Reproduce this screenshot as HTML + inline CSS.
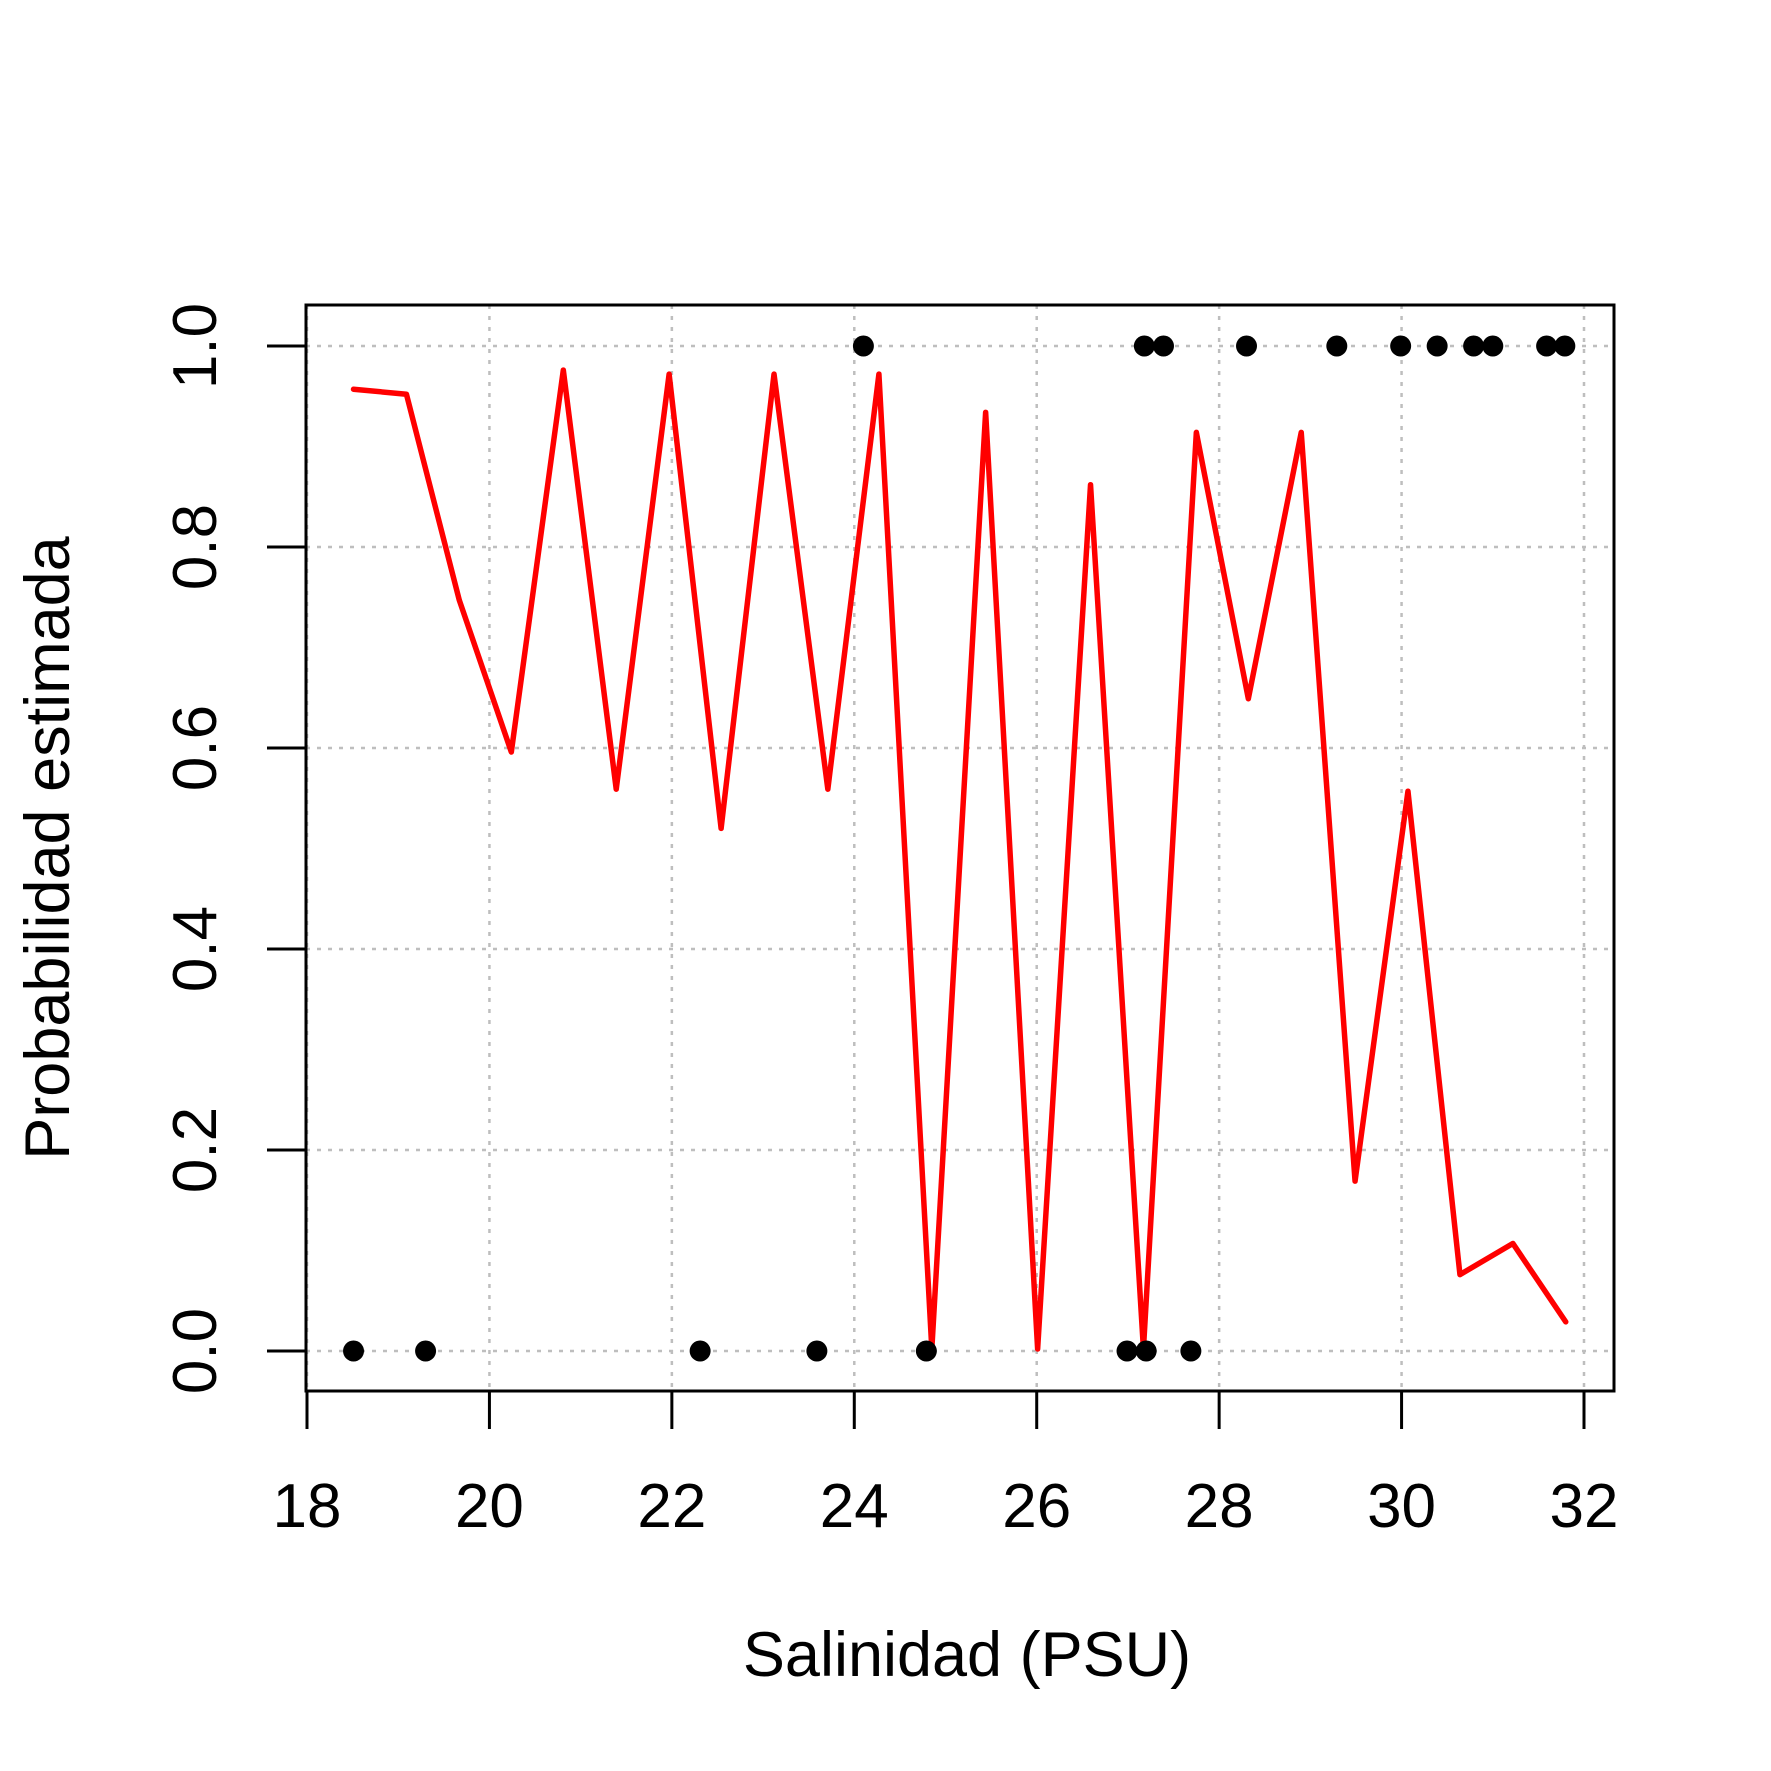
<!DOCTYPE html>
<html><head><meta charset="utf-8"><style>
html,body{margin:0;padding:0;background:#fff;}
svg{display:block;font-family:"Liberation Sans",Arial,sans-serif;}
</style></head><body>
<svg id="chart" width="1771" height="1771" viewBox="0 0 1771 1771">
<g id="grid"></g>
<g id="series"></g>
<rect x="306" y="305" width="1308" height="1086" fill="none" stroke="#000" stroke-width="3"/>
<g id="axes"></g>
<text x="967" y="1676" font-size="63" text-anchor="middle">Salinidad (PSU)</text>
<text transform="translate(69,848) rotate(-90)" font-size="63" text-anchor="middle">Probabilidad estimada</text>
</svg>
<script>
const lineX = [18.51,19.09,19.67,20.24,20.81,21.39,21.97,22.54,23.12,23.71,24.27,24.85,25.44,26.01,26.59,27.17,27.75,28.32,28.90,29.49,30.07,30.64,31.22,31.80];
const lineY = [0.957,0.952,0.747,0.596,0.976,0.559,0.972,0.520,0.972,0.559,0.972,0.002,0.934,0.002,0.862,0.002,0.914,0.649,0.914,0.169,0.557,0.076,0.107,0.029];
const onesX = [24.10,27.18,27.39,28.30,29.29,29.99,30.39,30.79,31.00,31.59,31.79];
const zerosX = [18.51,19.30,22.31,23.59,24.79,26.99,27.20,27.69];
const xTicks = [18,20,22,24,26,28,30,32];
const yTicks = [0,0.2,0.4,0.6,0.8,1.0];
const yTickLabels = ["0.0","0.2","0.4","0.6","0.8","1.0"];

const NS = "http://www.w3.org/2000/svg";
function sx(v){ return 307 + (v-18)*(1584-307)/14; }
function sy(v){ return 1351 - 1005*v; }
function mk(tag, attrs, parent){ const e=document.createElementNS(NS,tag); for(const k in attrs) e.setAttribute(k,attrs[k]); parent.appendChild(e); return e; }
const grid=document.getElementById('grid'), series=document.getElementById('series'), axes=document.getElementById('axes');

xTicks.forEach(t=>{
  const g=mk('line',{x1:sx(t),x2:sx(t),y1:305,y2:1391,stroke:'#bebebe','stroke-width':2.5,'stroke-dasharray':'4 7'},grid);
  
  
  const tk=mk('line',{x1:sx(t),x2:sx(t),y1:1391,y2:1429,stroke:'#000','stroke-width':3},axes);
  
  
  const lb=mk('text',{x:sx(t),y:1527,'font-size':62,'text-anchor':'middle'},axes);
  lb.textContent=t;
  
  
});
mk('line',{x1:sx(18),x2:sx(32),y1:1391,y2:1391,stroke:'#000','stroke-width':3},axes);
yTicks.forEach((t,i)=>{
  const g=mk('line',{x1:306,x2:1614,y1:sy(t),y2:sy(t),stroke:'#bebebe','stroke-width':2.5,'stroke-dasharray':'4 7'},grid);
  
  
  const tk=mk('line',{x1:267,x2:306,y1:sy(t),y2:sy(t),stroke:'#000','stroke-width':3},axes);
  
  
  const lb=mk('text',{transform:`translate(216,${sy(t)}) rotate(-90)`,'font-size':62,'text-anchor':'middle'},axes);
  lb.textContent=yTickLabels[i];
  
  
});
const pts=lineX.map((x,i)=>sx(x)+','+sy(lineY[i])).join(' ');
const pl=mk('polyline',{points:pts,fill:'none',stroke:'#ff0000','stroke-width':5.5,'stroke-linejoin':'round','stroke-linecap':'round'},series);


onesX.forEach(x=>{
  const c=mk('circle',{cx:sx(x),cy:sy(1),r:10.5,fill:'#000'},series);
  
  
});
zerosX.forEach(x=>{
  const c=mk('circle',{cx:sx(x),cy:sy(0),r:10.5,fill:'#000'},series);
  
  
});
</script>
</body></html>
